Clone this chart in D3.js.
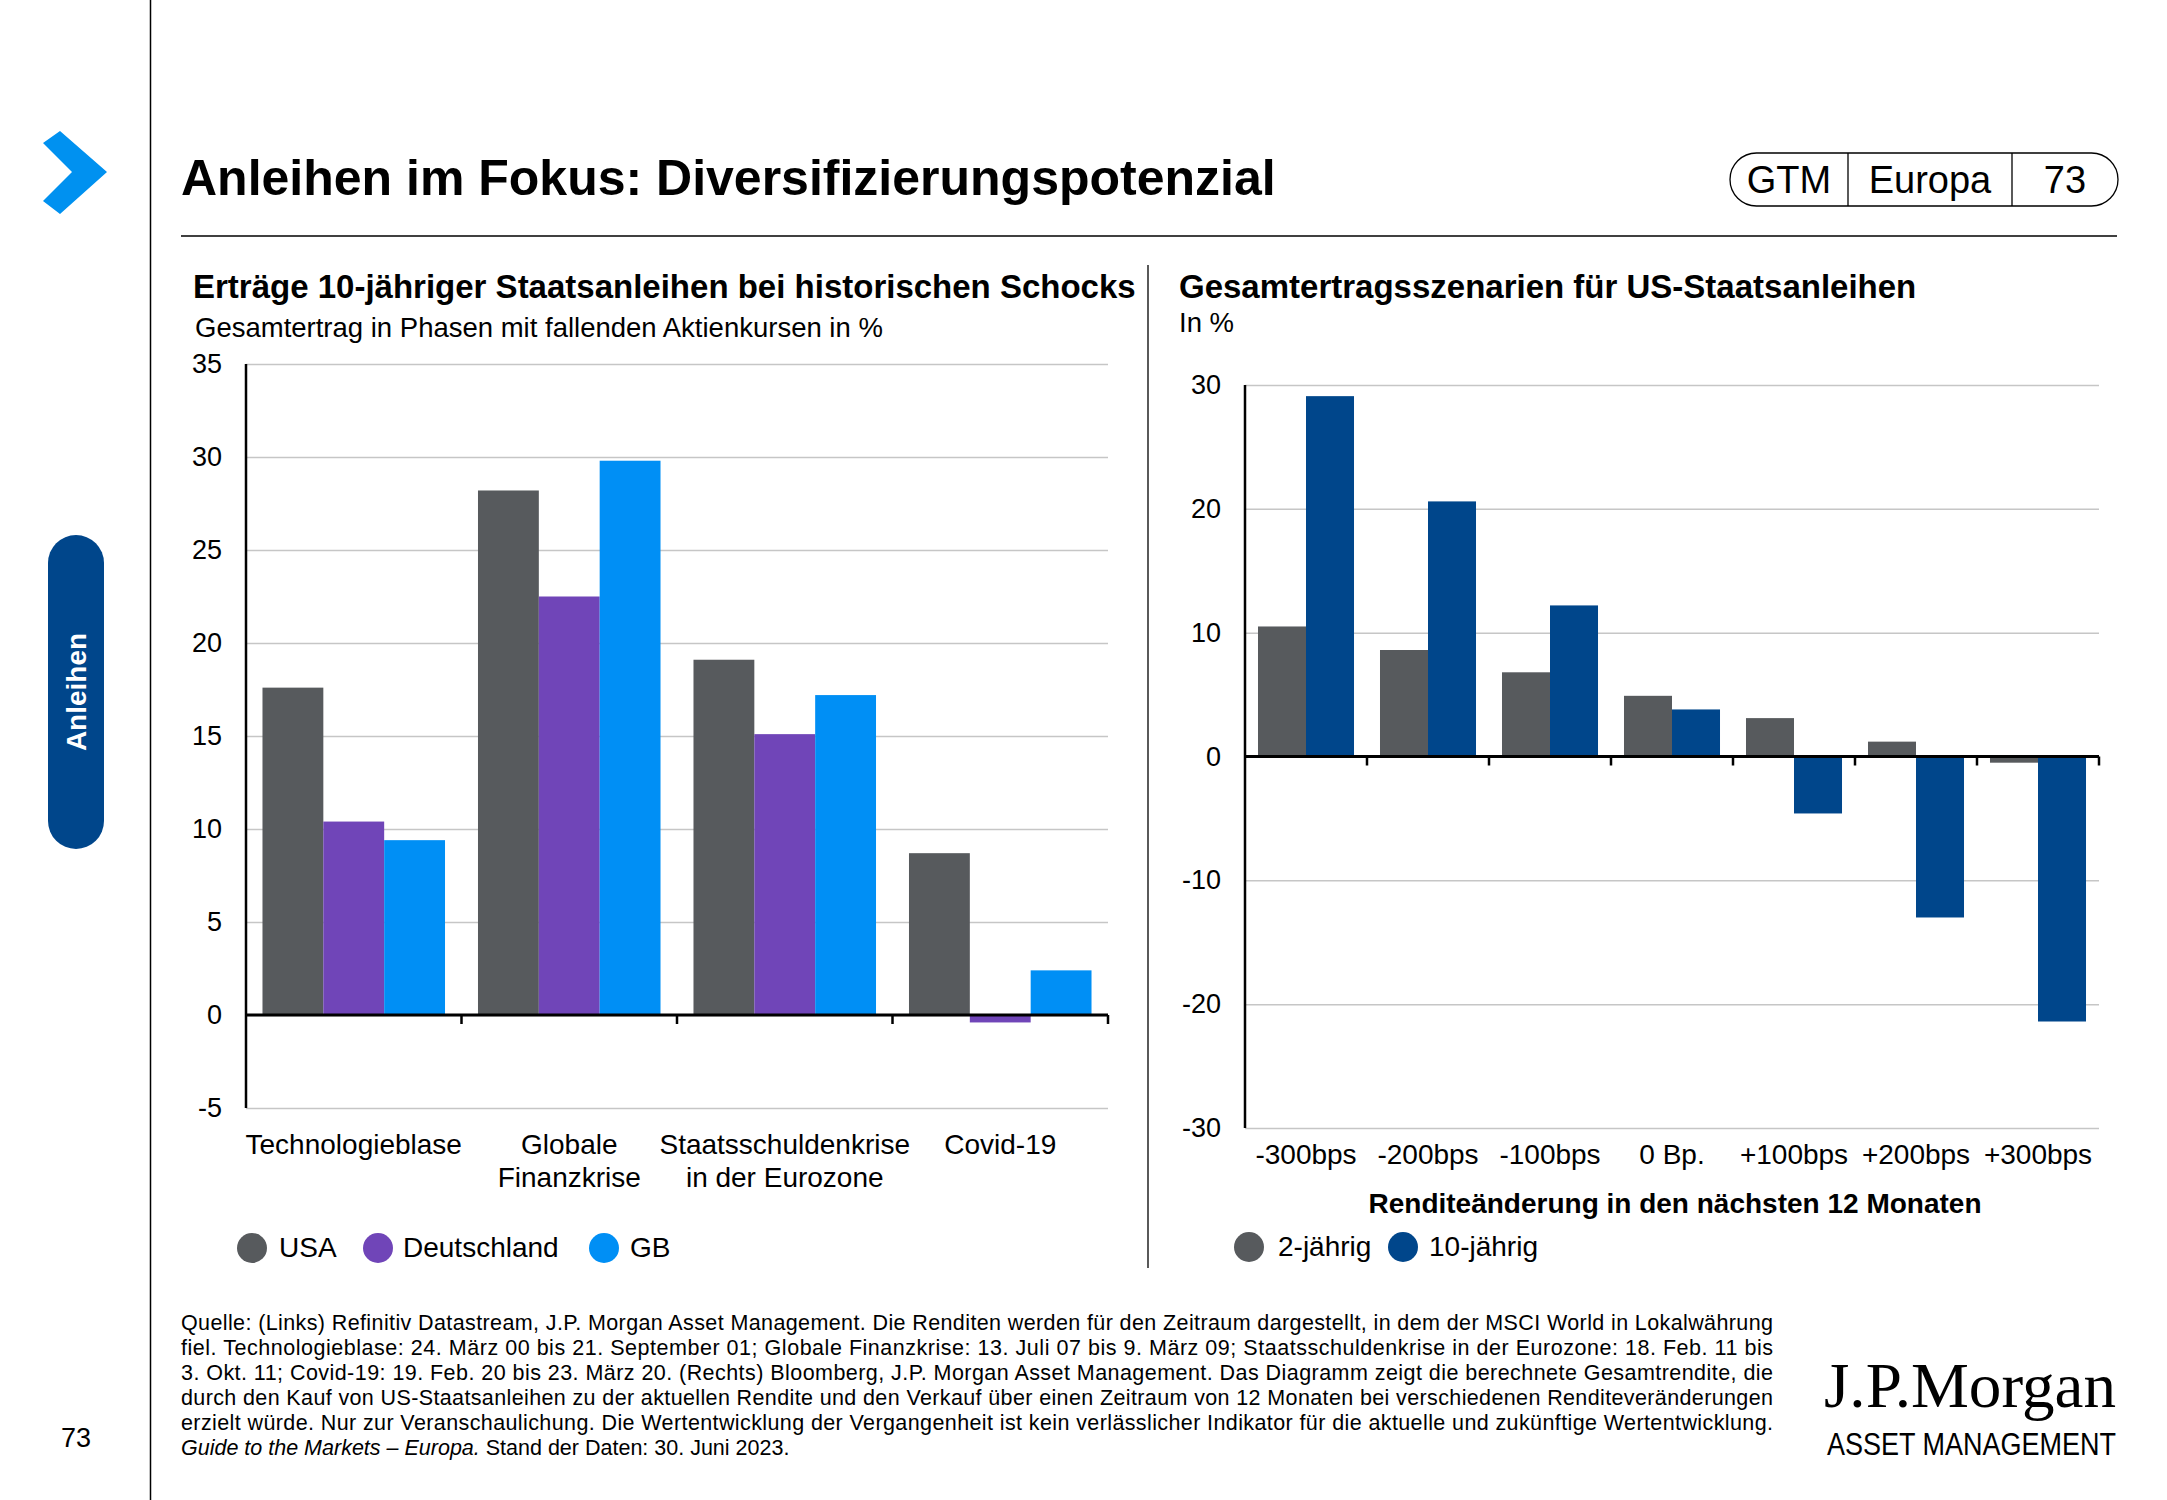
<!DOCTYPE html>
<html>
<head>
<meta charset="utf-8">
<script src="https://cdn.jsdelivr.net/npm/d3@7"></script>
<style>
  body { margin: 0; background: #fff; }
  text { font-family: "Liberation Sans", Arial, sans-serif; fill: #000; }
</style>
</head>
<body>
<svg id="chart" width="2167" height="1500"></svg>
<script>
// Left chart: returns of 10y government bonds during equity drawdowns
const shocks = ['Technologieblase', 'Globale Finanzkrise', 'Staatsschuldenkrise', 'Covid-19'];
const shockLabels = [['Technologieblase'], ['Globale', 'Finanzkrise'], ['Staatsschuldenkrise', 'in der Eurozone'], ['Covid-19']];
const countries = ['USA', 'Deutschland', 'GB'];
const usa = [17.6, 28.2, 19.1, 8.7];
const deutschland = [10.4, 22.5, 15.1, -0.4];
const gb = [9.4, 29.8, 17.2, 2.4];
const leftTicks = [-5, 0, 5, 10, 15, 20, 25, 30, 35];

// Right chart: total return scenarios for US Treasuries
const scenarios = ['-300bps', '-200bps', '-100bps', '0 Bp.', '+100bps', '+200bps', '+300bps'];
const maturities = ['2-jährig', '10-jährig'];
const twoYear = [10.5, 8.6, 6.8, 4.9, 3.1, 1.2, -0.5];
const tenYear = [29.1, 20.6, 12.2, 3.8, -4.6, -13.0, -21.4];
const rightTicks = [-30, -20, -10, 0, 10, 20, 30];

const footnote = [
  'Quelle: (Links) Refinitiv Datastream, J.P. Morgan Asset Management. Die Renditen werden für den Zeitraum dargestellt, in dem der MSCI World in Lokalwährung',
  'fiel. Technologieblase: 24. März 00 bis 21. September 01; Globale Finanzkrise: 13. Juli 07 bis 9. März 09; Staatsschuldenkrise in der Eurozone: 18. Feb. 11 bis',
  '3. Okt. 11; Covid-19: 19. Feb. 20 bis 23. März 20. (Rechts) Bloomberg, J.P. Morgan Asset Management. Das Diagramm zeigt die berechnete Gesamtrendite, die',
  'durch den Kauf von US-Staatsanleihen zu der aktuellen Rendite und den Verkauf über einen Zeitraum von 12 Monaten bei verschiedenen Renditeveränderungen',
  'erzielt würde. Nur zur Veranschaulichung. Die Wertentwicklung der Vergangenheit ist kein verlässlicher Indikator für die aktuelle und zukünftige Wertentwicklung.'
];

const colors = {
  USA: '#575a5d', Deutschland: '#7045b8', GB: '#008ff5',
  '2-jährig': '#575a5d', '10-jährig': '#00468b'
};

const svg = d3.select('#chart');

// ---------- page frame ----------
svg.append('line').attr('x1', 150.5).attr('x2', 150.5).attr('y1', 0).attr('y2', 1500)
  .attr('stroke', '#000').attr('stroke-width', 1.5);

svg.append('polygon')
  .attr('points', '43,143 60,131 107,172 60,214 43,201 72,172')
  .attr('fill', '#0091f0');

svg.append('rect').attr('x', 48).attr('y', 535).attr('width', 56).attr('height', 314)
  .attr('rx', 28).attr('fill', '#00468b');
svg.append('text').attr('transform', 'translate(86,692) rotate(-90)')
  .attr('text-anchor', 'middle').style('font-size', '28px').style('font-weight', 'bold')
  .style('fill', '#fff').text('Anleihen');

svg.append('text').attr('x', 76).attr('y', 1447).attr('text-anchor', 'middle')
  .style('font-size', '27px').text('73');

svg.append('text').attr('x', 181).attr('y', 195)
  .style('font-size', '50px').style('font-weight', 'bold')
  .text('Anleihen im Fokus: Diversifizierungspotenzial');

svg.append('line').attr('x1', 181).attr('x2', 2117).attr('y1', 236).attr('y2', 236)
  .attr('stroke', '#000').attr('stroke-width', 1.5);

// GTM | Europa | 73 badge
svg.append('rect').attr('x', 1730).attr('y', 153).attr('width', 388).attr('height', 53)
  .attr('rx', 26.5).attr('fill', 'none').attr('stroke', '#000').attr('stroke-width', 1.3);
[1848, 2012].forEach(x => svg.append('line').attr('x1', x).attr('x2', x)
  .attr('y1', 153).attr('y2', 206).attr('stroke', '#000').attr('stroke-width', 1.3));
[['GTM', 1789], ['Europa', 1930], ['73', 2065]].forEach(([t, x]) =>
  svg.append('text').attr('x', x).attr('y', 193).attr('text-anchor', 'middle')
    .style('font-size', '38px').text(t));

// divider between the two charts
svg.append('line').attr('x1', 1148).attr('x2', 1148).attr('y1', 265).attr('y2', 1268)
  .attr('stroke', '#000').attr('stroke-width', 1.3);

// ---------- helper for grouped bar charts ----------
function drawChart(cfg) {
  const g = svg.append('g');
  const x0 = d3.scaleBand().domain(cfg.categories).range(cfg.xRange)
    .paddingInner(cfg.pad).paddingOuter(cfg.pad / 2);
  const x1 = d3.scaleBand().domain(cfg.seriesNames).range([0, x0.bandwidth()]);
  const y = d3.scaleLinear().domain(cfg.yDomain).range(cfg.yRange);
  const width = cfg.xRange[1] - cfg.xRange[0];

  const yAxis = g.append('g').attr('transform', `translate(${cfg.xRange[0]},0)`)
    .call(d3.axisLeft(y).tickValues(cfg.ticks).tickFormat(d => String(d))
      .tickSizeInner(-width).tickSizeOuter(0).tickPadding(24));
  yAxis.select('.domain').remove();
  yAxis.selectAll('line').attr('stroke', '#c6c6c6').attr('stroke-width', 1.5);
  yAxis.selectAll('text').style('font-size', '27px').style('font-family', '"Liberation Sans", Arial, sans-serif').attr('fill', '#000');

  const rows = cfg.categories.map((c, i) => ({ c, vals: cfg.series.map((s, j) => ({ name: cfg.seriesNames[j], v: s[i] })) }));
  g.selectAll('g.grp').data(rows).join('g')
    .attr('transform', d => `translate(${x0(d.c)},0)`)
    .selectAll('rect').data(d => d.vals).join('rect')
    .attr('x', d => x1(d.name))
    .attr('width', x1.bandwidth())
    .attr('y', d => y(Math.max(0, d.v)))
    .attr('height', d => Math.abs(y(d.v) - y(0)))
    .attr('fill', d => colors[d.name]);

  // y axis line and zero line
  g.append('line').attr('x1', cfg.xRange[0]).attr('x2', cfg.xRange[0])
    .attr('y1', cfg.yRange[1]).attr('y2', cfg.yRange[0]).attr('stroke', '#000').attr('stroke-width', 2.5);
  g.append('line').attr('x1', cfg.xRange[0]).attr('x2', cfg.xRange[1])
    .attr('y1', y(0)).attr('y2', y(0)).attr('stroke', '#000').attr('stroke-width', 3);
  // boundary ticks
  g.selectAll('line.bt').data(cfg.categories).join('line')
    .attr('x1', d => x0(d) - x0.step() * cfg.pad / 2 + x0.step())
    .attr('x2', d => x0(d) - x0.step() * cfg.pad / 2 + x0.step())
    .attr('y1', y(0)).attr('y2', y(0) + 9).attr('stroke', '#000').attr('stroke-width', 2.5);

  // category labels
  const lab = g.selectAll('text.cat').data(cfg.categories).join('text')
    .attr('text-anchor', 'middle').style('font-size', '28px');
  lab.each(function (d, i) {
    const t = d3.select(this);
    cfg.labels[i].forEach((line, k) => t.append('tspan')
      .attr('x', x0(d) + x0.bandwidth() / 2).attr('y', cfg.labelY + k * 33).text(line));
  });

  // legend
  cfg.seriesNames.forEach((name, j) => {
    g.append('circle').attr('cx', cfg.legend[j][0]).attr('cy', cfg.legendY - 9).attr('r', 15)
      .attr('fill', colors[name]);
    g.append('text').attr('x', cfg.legend[j][1]).attr('y', cfg.legendY)
      .style('font-size', '28px').text(name);
  });
  return g;
}

// ---------- left chart ----------
svg.append('text').attr('x', 193).attr('y', 298).style('font-size', '33px').style('font-weight', 'bold')
  .text('Erträge 10-jähriger Staatsanleihen bei historischen Schocks');
svg.append('text').attr('x', 195).attr('y', 337).style('font-size', '27.5px')
  .text('Gesamtertrag in Phasen mit fallenden Aktienkursen in %');

drawChart({
  categories: shocks, labels: shockLabels, seriesNames: countries, series: [usa, deutschland, gb],
  xRange: [246, 1108], yDomain: [-5, 35], yRange: [1108, 364], ticks: leftTicks, pad: 0.153,
  labelY: 1154, legendY: 1257, legend: [[252, 279], [378, 403], [604, 630]]
});

// ---------- right chart ----------
svg.append('text').attr('x', 1179).attr('y', 298).style('font-size', '33px').style('font-weight', 'bold')
  .text('Gesamtertragsszenarien für US-Staatsanleihen');
svg.append('text').attr('x', 1179).attr('y', 332).style('font-size', '27.5px').text('In %');

drawChart({
  categories: scenarios, labels: scenarios.map(s => [s]), seriesNames: maturities, series: [twoYear, tenYear],
  xRange: [1245, 2099], yDomain: [-30, 30], yRange: [1128, 385], ticks: rightTicks, pad: 0.213,
  labelY: 1164, legendY: 1256, legend: [[1249, 1278], [1403, 1429]]
});
svg.append('text').attr('x', 1675).attr('y', 1213).attr('text-anchor', 'middle')
  .style('font-size', '28px').style('font-weight', 'bold')
  .text('Renditeänderung in den nächsten 12 Monaten');

// ---------- footnote ----------
footnote.forEach((line, i) => {
  svg.append('text').attr('x', 181).attr('y', 1330 + i * 24.9)
    .attr('textLength', 1592).attr('lengthAdjust', 'spacing')
    .style('font-size', '21.5px').text(line);
});
const last = svg.append('text').attr('x', 181).attr('y', 1330 + 5 * 24.9).style('font-size', '21.5px');
last.append('tspan').style('font-style', 'italic').text('Guide to the Markets – Europa.');
last.append('tspan').text(' Stand der Daten: 30. Juni 2023.');

// ---------- logo ----------
svg.append('text').attr('x', 1824).attr('y', 1407).attr('textLength', 292).attr('lengthAdjust', 'spacingAndGlyphs')
  .style('font-family', '"Liberation Serif", "DejaVu Serif", serif').style('font-size', '64px')
  .text('J.P.Morgan');
svg.append('text').attr('x', 1827).attr('y', 1455).attr('textLength', 289).attr('lengthAdjust', 'spacingAndGlyphs')
  .style('font-size', '31px').text('ASSET MANAGEMENT');
</script>
</body>
</html>
